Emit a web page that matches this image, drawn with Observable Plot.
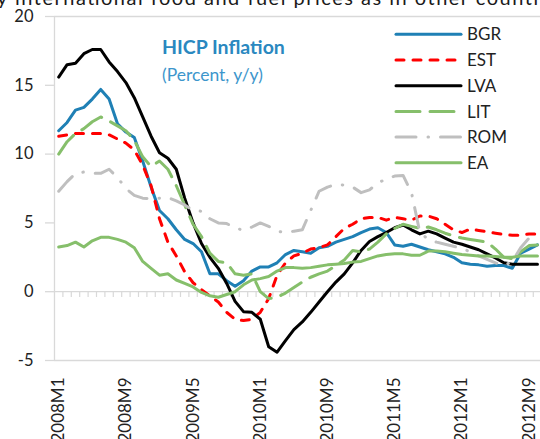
<!DOCTYPE html>
<html><head><meta charset="utf-8">
<script src="https://cdn.jsdelivr.net/npm/d3@7"></script>
<script src="https://cdn.jsdelivr.net/npm/@observablehq/plot@0.6"></script>
<style>
html,body{margin:0;padding:0;background:#fff;overflow:hidden}
#wrap{position:relative;width:540px;height:439px;overflow:hidden}
#wrap svg{position:absolute;left:0;top:0}
</style></head><body><div id="wrap"></div>
<script>
// Categories: monthly, 2008M1 .. 2012M10
const months = d3.range(58).map(i => `${2008 + Math.floor(i / 12)}M${(i % 12) + 1}`);
const labelMonths = ["2008M1","2008M9","2009M5","2010M1","2010M9","2011M5","2012M1","2012M9"];
const yTicks = [-5, 0, 5, 10, 15, 20];

const seriesNames = ["BGR", "EST", "LVA", "LIT", "ROM", "EA"];

const BGR = [11.7,12.3,13.2,13.4,14.0,14.7,14.0,12.2,11.6,11.2,9.5,7.6,5.9,5.3,4.5,3.8,3.5,2.9,1.3,1.3,0.8,0.4,0.8,1.5,1.8,1.8,2.1,2.7,3.0,2.9,2.8,3.2,3.3,3.6,3.8,4.0,4.3,4.55,4.65,4.3,3.4,3.3,3.45,3.25,3.05,2.9,2.75,2.5,2.1,2.0,1.95,1.85,1.9,1.9,1.7,2.8,3.1,3.4];
const EST = [11.3,11.4,11.5,11.5,11.5,11.5,11.4,11.1,10.8,10.3,9.2,7.7,5.3,3.6,2.6,1.45,0.65,0.15,-0.3,-0.75,-1.5,-2.0,-2.1,-2.0,-1.5,-0.5,1.2,2.1,2.6,2.8,3.1,3.2,3.4,4.0,4.6,4.9,5.3,5.4,5.4,5.2,5.4,5.3,5.2,5.5,5.5,5.3,4.9,4.5,4.3,4.55,4.45,4.35,4.25,4.15,4.1,4.1,4.2,4.2];
const LVA = [15.6,16.5,16.6,17.3,17.6,17.6,16.7,16.0,15.2,14.1,12.7,11.3,10.1,9.7,8.9,6.8,5.0,3.5,2.5,1.7,0.6,-0.7,-1.45,-1.5,-2.0,-4.0,-4.4,-3.55,-2.75,-2.2,-1.5,-0.75,0.0,0.7,1.3,2.1,3.0,3.65,4.0,4.3,4.65,4.85,4.5,4.2,4.4,4.2,3.9,3.6,3.45,3.25,3.05,2.75,2.45,2.1,2.0,2.0,2.0,2.0];
const LIT = [10.0,10.9,11.5,11.85,12.35,12.7,12.4,12.05,11.7,11.0,9.8,9.1,9.5,8.9,7.7,6.3,4.9,4.0,2.8,2.2,2.1,1.3,1.2,1.3,0.0,-0.5,-0.4,-0.1,0.3,0.7,1.05,1.3,1.5,1.9,2.3,3.0,2.9,3.1,3.6,4.2,4.6,4.9,4.75,4.6,4.7,4.5,4.25,4.05,3.9,3.8,3.7,3.6,3.1,2.5,2.4,2.9,3.35,3.4];
const ROM = [7.3,8.0,8.6,8.7,8.6,8.6,8.9,8.3,7.5,7.0,6.8,6.75,6.8,6.85,6.6,6.3,5.9,5.85,5.3,5.0,4.95,4.65,4.45,4.7,5.0,4.75,4.4,4.3,4.4,4.5,5.9,7.3,7.6,7.8,7.75,7.6,7.2,7.4,7.9,8.2,8.4,8.45,7.2,4.3,3.8,3.6,3.45,3.3,3.15,2.9,2.6,2.35,2.1,1.9,2.2,3.2,3.9,4.3];
const EA  = [3.25,3.35,3.6,3.25,3.7,3.95,3.95,3.8,3.6,3.2,2.2,1.7,1.2,1.3,0.85,0.6,0.35,-0.05,-0.3,-0.4,-0.2,0.0,0.5,0.85,0.95,1.1,1.5,1.75,1.75,1.7,1.75,1.85,1.95,2.0,2.05,2.15,2.2,2.4,2.6,2.7,2.75,2.75,2.65,2.65,2.95,2.95,2.9,2.8,2.7,2.65,2.6,2.6,2.55,2.5,2.5,2.6,2.6,2.6];

const seriesValues = [BGR, EST, LVA, LIT, ROM, EA];
const styles = {
  BGR: {stroke: "#1f80b5", dash: null},
  EST: {stroke: "#ff0000", dash: "8,9"},
  LVA: {stroke: "#000000", dash: null},
  LIT: {stroke: "#86bf6b", dash: "24,10"},
  ROM: {stroke: "#bfbfbf", dash: "20,12,0.5,12"},
  EA:  {stroke: "#86bf6b", dash: null}
};

const FONT = "Lato, 'Open Sans', sans-serif";
const AX = "#d9d9d9";

const rows = [];
seriesNames.forEach((name, s) => seriesValues[s].forEach((v, i) => rows.push({series: name, i, v})));
const labelIdx = labelMonths.map(m => months.indexOf(m));
const boundaries = d3.range(1, months.length + 1).map(k => k - 0.5);

const lineMarks = seriesNames.map(name => Plot.line(rows.filter(r => r.series === name), {
  x: "i", y: "v", stroke: styles[name].stroke, strokeWidth: 3,
  strokeDasharray: styles[name].dash, strokeLinecap: "round", strokeLinejoin: "round"
}));

const chart = Plot.plot({
  width: 540, height: 439,
  marginLeft: 54, marginRight: 0, marginTop: 16, marginBottom: 79,
  style: {fontFamily: FONT, background: "transparent", overflow: "visible"},
  x: {type: "linear", domain: [-0.5, 57.36], axis: null},
  y: {domain: [-5, 20], axis: null},
  marks: [
    Plot.ruleY([20, -5], {stroke: AX, strokeWidth: 1.3}),
    Plot.ruleX([-0.5], {y1: -5, y2: 20, stroke: AX, strokeWidth: 1.3}),
    Plot.ruleY([0], {stroke: AX, strokeWidth: 1.3}),
    Plot.ruleX(boundaries, {x: d => d, y1: 0, y2: -0.42, stroke: AX, strokeWidth: 1.2}),
    Plot.axisY({ticks: yTicks, label: null, tickSize: 9, tickPadding: 12, stroke: AX, strokeWidth: 1.3, fill: "#222", fontSize: 16.5, tickFormat: d => String(d)}),
    Plot.axisX({ticks: labelIdx, label: null, tickFormat: i => months[i], tickRotate: -90, tickSize: 0, tickPadding: 17, fill: "#222", fontSize: 17}),
    ...lineMarks
  ]
});
const wrap = document.getElementById("wrap");
wrap.appendChild(chart);

// Overlay: cropped title, annotation, legend
const ov = d3.select(wrap).append("svg").attr("width", 540).attr("height", 439)
  .style("font-family", FONT).style("pointer-events", "none");
ov.append("text").attr("x", -3).attr("y", 4.5).attr("font-size", 20).attr("fill", "#1a1a1a")
  .attr("textLength", 550).attr("lengthAdjust", "spacing")
  .text("y international food and fuel prices as in other countri");
ov.append("text").attr("x", 162).attr("y", 54).attr("font-size", 19.5).attr("font-weight", "bold")
  .attr("fill", "#2a88c0").text("HICP Inflation");
ov.append("text").attr("x", 162).attr("y", 81).attr("font-size", 17.5)
  .attr("fill", "#3d96cc").text("(Percent, y/y)");

const legY0 = 34.3, legStep = 25.7;
seriesNames.forEach((name, k) => {
  const y = legY0 + k * legStep;
  ov.append("line").attr("x1", 396).attr("x2", 461).attr("y1", y).attr("y2", y)
    .attr("stroke", styles[name].stroke).attr("stroke-width", 3)
    .attr("stroke-linecap", "round")
    .attr("stroke-dasharray", styles[name].dash);
  ov.append("text").attr("x", 467).attr("y", y).attr("dy", "0.36em")
    .attr("font-size", 17).attr("fill", "#222").text(name);
});
</script></body></html>
